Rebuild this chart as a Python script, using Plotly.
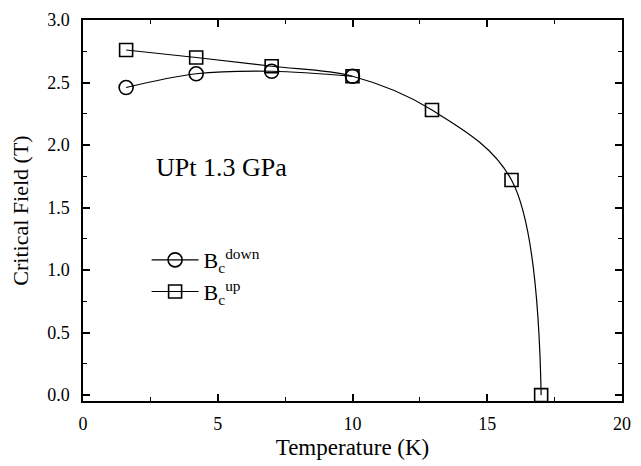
import plotly.graph_objects as go

temp_down = [1.6, 4.2, 7.0, 10.0]
field_down = [2.46, 2.57, 2.59, 2.55]
temp_up = [1.6, 4.2, 7.0, 10.0, 12.95, 15.9, 17.0]
field_up = [2.76, 2.70, 2.63, 2.55, 2.28, 1.72, 0.0]

x_ticks = [0, 5, 10, 15, 20]
y_ticks = [0.0, 0.5, 1.0, 1.5, 2.0, 2.5, 3.0]

font = "Liberation Serif"

fig = go.Figure()
fig.add_trace(go.Scatter(
    x=temp_down, y=field_down, mode="lines+markers",
    name="B<sub>c</sub><sup>down</sup>",
    line=dict(color="black", width=1.2, shape="spline", smoothing=1.0),
    marker=dict(symbol="circle-open", size=14, color="black", line=dict(width=1.6)),
))
fig.add_trace(go.Scatter(
    x=temp_up, y=field_up, mode="lines+markers",
    name="B<sub>c</sub><sup>up</sup>",
    line=dict(color="black", width=1.2, shape="spline", smoothing=1.0),
    marker=dict(symbol="square-open", size=13, color="black", line=dict(width=1.6)),
))

axis_common = dict(
    showline=True, linecolor="black", linewidth=1.5, mirror="ticks",
    ticks="inside", ticklen=7, tickwidth=1.5, tickcolor="black",
    showgrid=False, zeroline=False,
    tickfont=dict(family=font, size=18, color="black"),
)

fig.update_xaxes(
    range=[0, 20], tickvals=x_ticks, ticktext=[str(v) for v in x_ticks],
    minor=dict(ticks="inside", ticklen=4, tickwidth=1.2, tickcolor="black", dtick=2.5),
    title=dict(text="Temperature (K)", font=dict(family=font, size=23, color="black"), standoff=6),
    ticklabelstandoff=6,
    **axis_common,
)
fig.update_yaxes(
    range=[-0.047, 3.0], tickvals=y_ticks, ticktext=[f"{v:.1f}" for v in y_ticks],
    minor=dict(ticks="inside", ticklen=4, tickwidth=1.2, tickcolor="black", dtick=0.25, tick0=0),
    title=dict(text="Critical Field (T)", font=dict(family=font, size=22, color="black"), standoff=12),
    ticklabelstandoff=8,
    **axis_common,
)

fig.add_annotation(
    x=0.132, y=0.612, xref="paper", yref="paper", xanchor="left", yanchor="middle",
    text="UPt 1.3 GPa", showarrow=False,
    font=dict(family=font, size=26, color="black"),
)

fig.update_layout(
    width=641, height=466,
    margin=dict(l=83, r=10, t=14, b=65),
    paper_bgcolor="white", plot_bgcolor="white",
    showlegend=True,
    legend=dict(x=0.118, y=0.425, xanchor="left", yanchor="top",
                bgcolor="rgba(0,0,0,0)", borderwidth=0,
                font=dict(family=font, size=22, color="black"),
                itemwidth=47, tracegroupgap=2),
)

fig.write_html("out.html")
